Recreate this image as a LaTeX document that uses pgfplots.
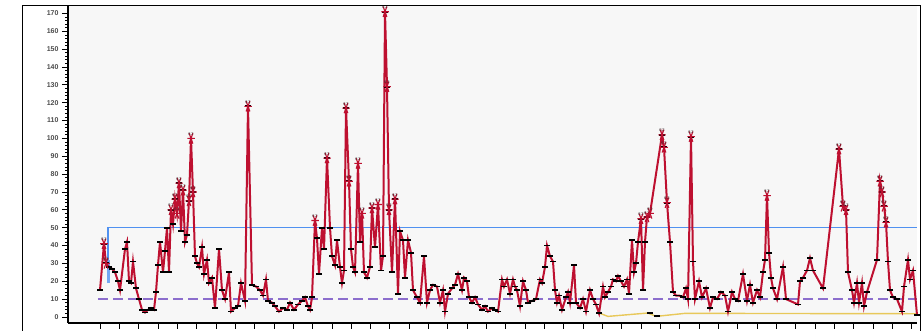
\documentclass[border=0pt]{standalone}
\usepackage{fontspec}
\setmainfont{Liberation Sans}
\usepackage{pgfplots}
\pgfplotsset{compat=1.18}
\definecolor{cred}{RGB}{190,16,48}
\definecolor{cblue}{RGB}{80,145,240}
\definecolor{cpurple}{RGB}{140,110,205}
\definecolor{cyellow}{RGB}{232,200,90}
\begin{document}
\begin{tikzpicture}
\useasboundingbox (0pt,0pt) rectangle (922pt,331pt);
\fill[white] (0pt,0pt) rectangle (922pt,331pt);
\begin{axis}[
  at={(68pt,8pt)}, anchor=south west,
  width=849pt, height=317pt, scale only axis,
  xmin=68, xmax=917, ymin=-3.4, ymax=174.2,
  axis background/.style={fill=gray!6},
  axis lines=left, axis line style={-, black, line width=1.2pt},
  ytick={0,10,...,170},
  minor y tick num=4,
  xtick={100,119.326,...,913},
  xticklabels={},
  tick align=outside, tick pos=left,
  major tick length=6pt, minor tick length=2.5pt,
  tick style={black, line width=0.8pt},
  minor tick style={black, line width=0.8pt},
  /pgf/number format/assume math mode=true,
  yticklabel style={font=\fontsize{7}{8}\selectfont\bfseries, text=black!70},
  clip=false,
]
\addplot[color=cpurple, line width=1.4pt, dash pattern=on 10pt off 5pt] coordinates {(98,10) (917,10)};
\addplot[color=cblue, line width=1.4pt] coordinates {(108,20) (108,50) (917,50)};
\addplot[color=cblue!80, line width=3pt] coordinates {(108,19) (108,32)};
\addplot[color=cyellow, line width=1.4pt] coordinates {(600,2) (608,0.3) (648,2.2) (656,0.3) (685,2) (917,1.8)};
\addplot[only marks, mark=-, mark size=3pt, mark options={black, line width=1.8pt}] coordinates {(650,2.2) (657,0.3)};
\addplot[color=cred, line width=2pt, mark=-, mark size=3pt, mark options={black, line width=1.8pt}] coordinates {
(100,15) (104,41) (106,30) (109,28) (112,27) (115,25) (118,20) (120,15) (125,38) (127,42)
(129,20) (131,19) (133,31) (136,16) (139,10) (142,4) (145,2.5) (148,4) (151,5) (154,4)
(156,14) (158,29) (160,42) (163,25) (165,37) (167,50) (169,25) (171,60) (173,52) (175,66)
(177,58) (179,75) (181,48) (183,71) (185,42) (187,46) (189,65) (191,100) (193,70) (195,34)
(197,30) (199,28) (202,39) (204,24) (207,32) (209,19) (212,22) (215,5) (219,38) (222,15)
(225,10) (229,25) (231,3) (235,5) (238,6) (241,19) (245,9) (248,118) (252,18) (256,17)
(260,15) (263,12) (266,21) (268,9) (272,8) (275,6) (279,3) (283,5) (287,4) (290,8)
(294,4) (298,7) (302,9) (305,11) (308,6) (310,4) (312,11) (315,54) (317,44) (319,24)
(322,50) (324,38) (327,89) (330,50) (332,34) (335,29) (337,43) (340,28) (342,19) (344,26)
(346,117) (349,76) (351,38) (353,28) (355,25) (358,86) (360,42) (362,58) (364,25) (367,22)
(370,28) (372,61) (375,39) (378,63) (381,26) (383,34) (385,171) (387,129) (389,60) (392,25)
(395,66) (398,13) (400,48) (403,43) (405,22) (408,43) (411,36) (413,15) (417,11) (420,8)
(424,34) (427,8) (430,15) (433,18) (437,17) (440,8) (443,15) (445,3) (448,13) (452,16)
(455,18) (458,24) (462,15) (464,22) (467,20) (469,11) (472,8) (475,11) (478,7) (482,4)
(485,6) (488,3) (492,5) (495,4) (498,3) (502,21) (504,17) (507,21) (510,13) (513,21)
(515,17) (517,15) (520,6) (523,20) (526,15) (528,8) (532,9) (536,10) (540,21) (542,19)
(545,28) (547,40) (550,34) (553,31) (555,15) (557,8) (559,12) (562,4) (566,11) (568,14)
(570,8) (574,29) (576,8) (580,5) (583,10) (586,3) (590,15) (593,10) (596,7) (599,2)
(603,17) (605,11) (608,14) (611,17) (613,21) (616,20) (618,23) (621,20) (624,17) (627,21)
(629,13) (632,43) (634,25) (636,30) (638,42) (641,55) (643,15) (645,42) (647,56) (650,58)
(662,102) (664,95) (667,64) (670,42) (673,14) (676,12) (679,12) (683,11) (686,16) (688,10)
(691,101) (693,31) (695,10) (699,20) (702,11) (706,16) (710,5) (713,11) (717,10) (721,14)
(725,12) (728,3) (732,14) (735,10) (738,9) (743,24) (747,9) (750,18) (753,8) (757,15)
(760,11) (763,25) (765,32) (767,68) (769,36) (771,22) (773,16) (777,10) (783,28) (786,10)
(798,7) (800,20) (803,22) (807,26) (810,33) (813,26) (823,16) (839,94) (843,62) (846,60)
(848,25) (852,15) (854,8) (857,19) (859,8) (862,19) (864,6) (867,14) (877,32) (880,76)
(882,70) (884,62) (886,53) (888,31) (890,15) (893,11) (897,10) (902,3) (904,17) (908,32)
(910,21) (913,26) (917,1)
};
\addplot[only marks, mark=asterisk, mark size=5pt,
  mark options={rotate=90, cred, line width=1.1pt, xscale=1.2, yscale=0.75},
  nodes near coords={6\,2},
  every node near coord/.append style={font=\fontsize{4}{4}\selectfont, text=black!80, yshift=-1pt}]
coordinates {
(104,41) (106,30) (171,60) (175,66) (177,58) (179,75) (183,71) (189,65) (191,100) (193,70)
(248,118) (315,54) (327,89) (346,117) (349,76) (358,86) (362,58) (372,61) (378,63) (385,171)
(387,129) (389,60) (395,66) (641,55) (647,56) (650,58) (662,102) (664,95) (667,64) (691,101)
(767,68) (839,94) (843,62) (846,60) (880,76) (882,70) (884,62) (886,53)
};
\end{axis}
\draw[black, line width=1pt] (22pt,-5pt) -- (22pt,325pt) -- (920.5pt,325pt) -- (920.5pt,-5pt);
\end{tikzpicture}
\end{document}
